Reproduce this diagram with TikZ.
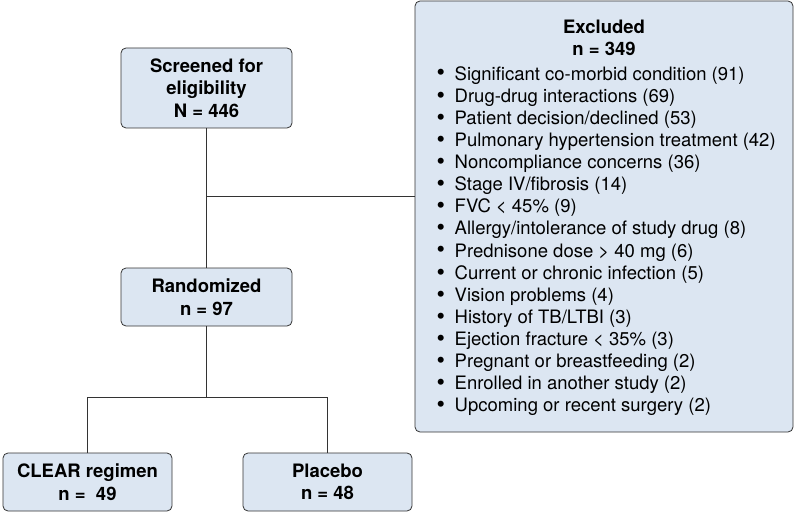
\documentclass[tikz,border=0pt]{standalone}
\usepackage{fontspec}
\setmainfont{TeX Gyre Heros}
\begin{document}
\begin{tikzpicture}[x=1pt,y=-1pt,
  box/.style={draw=black!80, line width=0.8pt, fill=boxblue, rounded corners=5pt},
  lbl/.style={font=\fontsize{18.5}{22.5}\selectfont\bfseries, align=center, inner sep=0pt},
  conn/.style={draw=black!80, line width=0.8pt}]
\definecolor{boxblue}{HTML}{DCE6F2}
\newcommand{\itm}{\makebox[18pt][l]{\smash{\raisebox{-0.05em}{\scalebox{1.3}{\textbullet}}}}}
\useasboundingbox (0,0) rectangle (795,513);
% boxes
\draw[box] (121,48) rectangle (292,128);
\node[lbl] (scr) at (206.5,88) {Screened for\\eligibility\\N = 446};
\coordinate (scrB) at (206.5,128);
\draw[box] (121,268) rectangle (292,326);
\node[lbl] (ran) at (206.5,297) {Randomized\\n = 97};
\coordinate (ranT) at (206.5,268);
\coordinate (ranB) at (206.5,326);
\draw[box] (3,453) rectangle (172,511);
\node[lbl] (clr) at (87.5,482) {CLEAR regimen\\n = \ 49};
\coordinate (clrT) at (87.5,453);
\draw[box] (243,453) rectangle (412,511);
\node[lbl] (plc) at (327.5,482) {Placebo\\n = 48};
\coordinate (plcT) at (327.5,453);
\draw[box] (415,1) rectangle (793,432);
\coordinate (excL) at (415,196);
\node[lbl] (exc) at (604,38) {Excluded\\n = 349};
\node[anchor=north west, inner sep=0pt, align=left, font=\fontsize{18.5}{22.13}\selectfont] (lst) at (436.5,66) {%
\itm Significant co-morbid condition (91)\\
\itm Drug-drug interactions (69)\\
\itm Patient decision/declined (53)\\
\itm Pulmonary hypertension treatment (42)\\
\itm Noncompliance concerns (36)\\
\itm Stage IV/fibrosis (14)\\
\itm FVC < 45\% (9)\\
\itm Allergy/intolerance of study drug (8)\\
\itm Prednisone dose > 40 mg (6)\\
\itm Current or chronic infection (5)\\
\itm Vision problems (4)\\
\itm History of TB/LTBI (3)\\
\itm Ejection fracture < 35\% (3)\\
\itm Pregnant or breastfeeding (2)\\
\itm Enrolled in another study (2)\\
\itm Upcoming or recent surgery (2)};
% connectors
\coordinate (junc) at (206.5,196);
\coordinate (split) at (206.5,397);
\draw[conn] (scrB) -- (ranT);
\draw[conn] (junc) -- (excL);
\draw[conn] (ranB) -- (split);
\draw[conn] (clrT) |- (plcT |- split) -- (plcT);
\end{tikzpicture}
\end{document}
